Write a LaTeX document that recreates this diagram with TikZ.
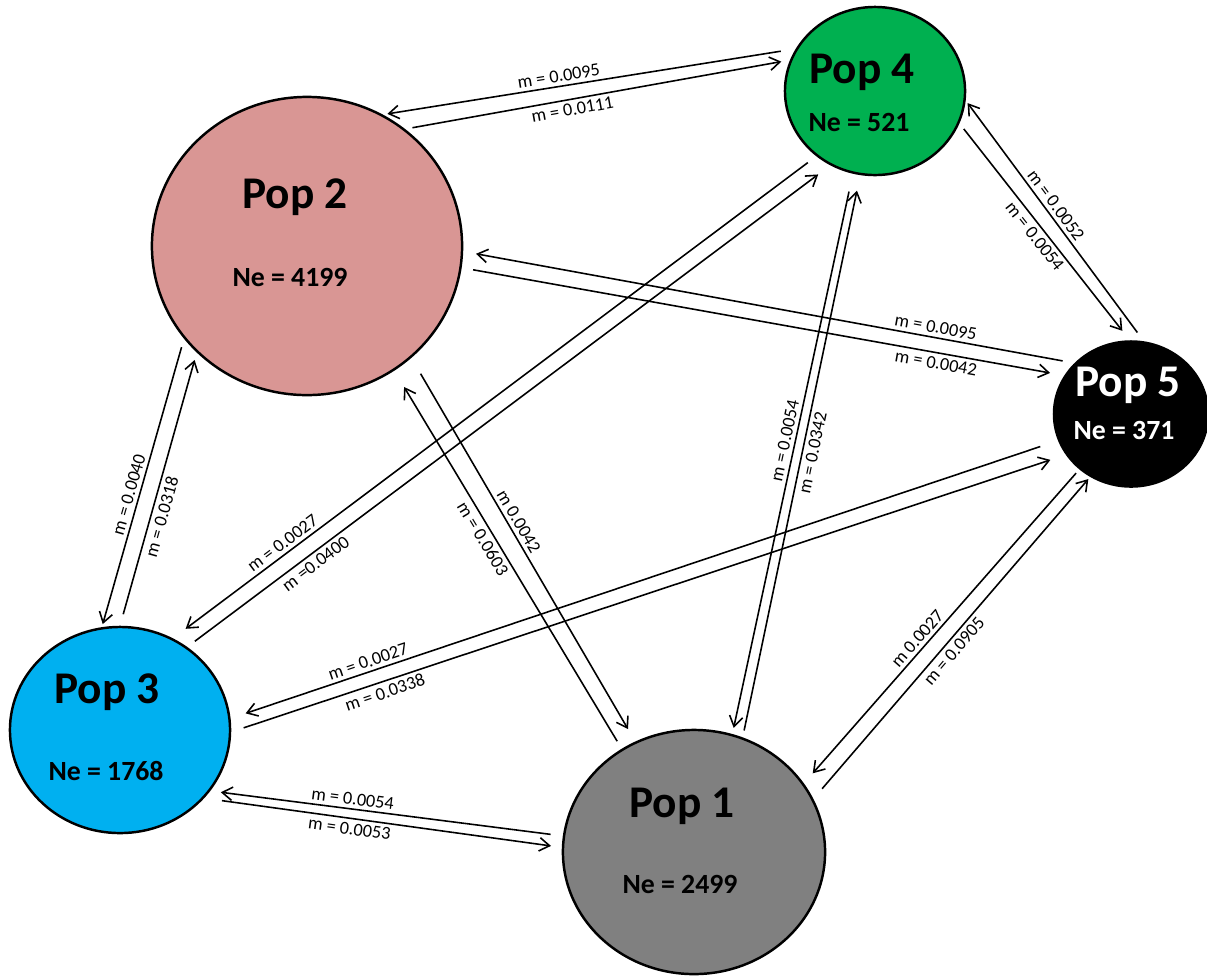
\documentclass[tikz,border=0pt]{standalone}
\usepackage{fontspec}
\setmainfont{Carlito}
\usepackage{tikz}
\usetikzlibrary{arrows.meta,shapes.geometric}
\definecolor{poppink}{RGB}{217,150,148}
\definecolor{popgreen}{RGB}{0,176,80}
\definecolor{popblue}{RGB}{0,176,240}
\definecolor{popgrey}{RGB}{128,128,128}

\begin{document}
\begin{tikzpicture}[x=0.01cm, y=-0.01cm, >={Straight Barb[length=2.9pt,width=3.8pt]},
    pop/.style={ellipse, draw=black, line width=0.7pt, inner sep=0pt},
    popname/.style={font=\fontsize{12.9}{14}\selectfont\bfseries, inner sep=0pt},
    popne/.style={font=\fontsize{7.9}{9}\selectfont\bfseries, inner sep=0pt},
    mig/.style={->, line width=0.45pt},
    rate/.style={font=\fontsize{5.2}{6}\selectfont, sloped, inner sep=1pt}]
  \useasboundingbox (0,0) rectangle (1207,978);
  % populations
  \node[pop, fill=popgrey, minimum width=2.62cm, minimum height=2.44cm] (p1) at (694,852) {};
  \node[pop, fill=poppink, minimum width=3.10cm, minimum height=2.98cm] (p2) at (307,246) {};
  \node[pop, fill=popblue, minimum width=2.20cm, minimum height=2.06cm] (p3) at (120,730) {};
  \node[pop, fill=popgreen, minimum width=1.80cm, minimum height=1.68cm] (p4) at (875,91) {};
  \node[pop, fill=black, minimum width=1.54cm, minimum height=1.45cm] (p5) at (1131,414) {};
  % names and sizes
  \foreach \n/\x/\y/\ne/\xx/\yy/\c in {1/682/806/2499/680/884/black, 2/295/197/4199/290/277/black,
      3/107/692/1768/106/771/black, 4/862/72/521/859/122/black, 5/1128/385/371/1124/430/white}{
    \node[popname, text=\c] (t\n) at (\x,\y) {Pop \n};
    \node[popne, text=\c] (ne\n) at (\xx,\yy) {Ne = \ne};
  }
  % migration rates, one line per direction
  \foreach \src/\sa/\ss/\dst/\da/\ds/\p/\side/\m in {
      p4/152/4.3pt/p2/60/1.3pt/0.57/above/m = 0.0095,
      p2/50/2.1pt/p4/160/2.5pt/0.43/below/m = 0.0111,
      p5/80/3.1pt/p4/-6/0.9pt/0.54/above/m = 0.0052,
      p4/-21/2pt/p5/91/3.4pt/0.49/below/m = 0.0054,
      p5/138/3.4pt/p2/-2/3.7pt/0.23/above/m = 0.0095,
      p2/-8/3.3pt/p5/150/4.1pt/0.79/below/m = 0.0042,
      p2/-143/2.5pt/p3/100/0.9pt/0.55/above/m = 0.0040,
      p3/90/3.4pt/p2/-136/2.2pt/0.41/below/m = 0.0318,
      p4/-132/3pt/p3/60/4.5pt/0.82/above/m = 0.0027,
      p3/51/2.7pt/p4/-121/4.3pt/0.19/below/m =0.0400,
      p1/125/2.5pt/p2/-55/5.4pt/0.57/below/m = 0.0603,
      p2/-47/5.2pt/p1/118/4.1pt/0.44/above/m 0.0042,
      p4/-105/5.2pt/p1/72/1.8pt/0.48/above/m = 0.0054,
      p1/67/2pt/p4/-100/4.5pt/0.51/below/m = 0.0342,
      p5/-160/5.3pt/p3/6/4.5pt/0.83/above/m = 0.0027,
      p3/-1/3.7pt/p5/-148/4.6pt/0.18/below/m = 0.0338,
      p5/-133/1.4pt/p1/32/3.8pt/0.56/above/m 0.0027,
      p1/24/3.8pt/p5/-123/0.8pt/0.48/below/m = 0.0905,
      p1/173/3.5pt/p3/-34/3pt/0.60/above/m = 0.0054,
      p3/-39/5.1pt/p1/178/3.1pt/0.41/below/m = 0.0053}{
    \draw[mig, shorten <=\ss, shorten >=\ds] (\src.\sa) -- node[rate, pos=\p, \side] (r\src\dst) {\m} (\dst.\da);
  }
\end{tikzpicture}
\end{document}
